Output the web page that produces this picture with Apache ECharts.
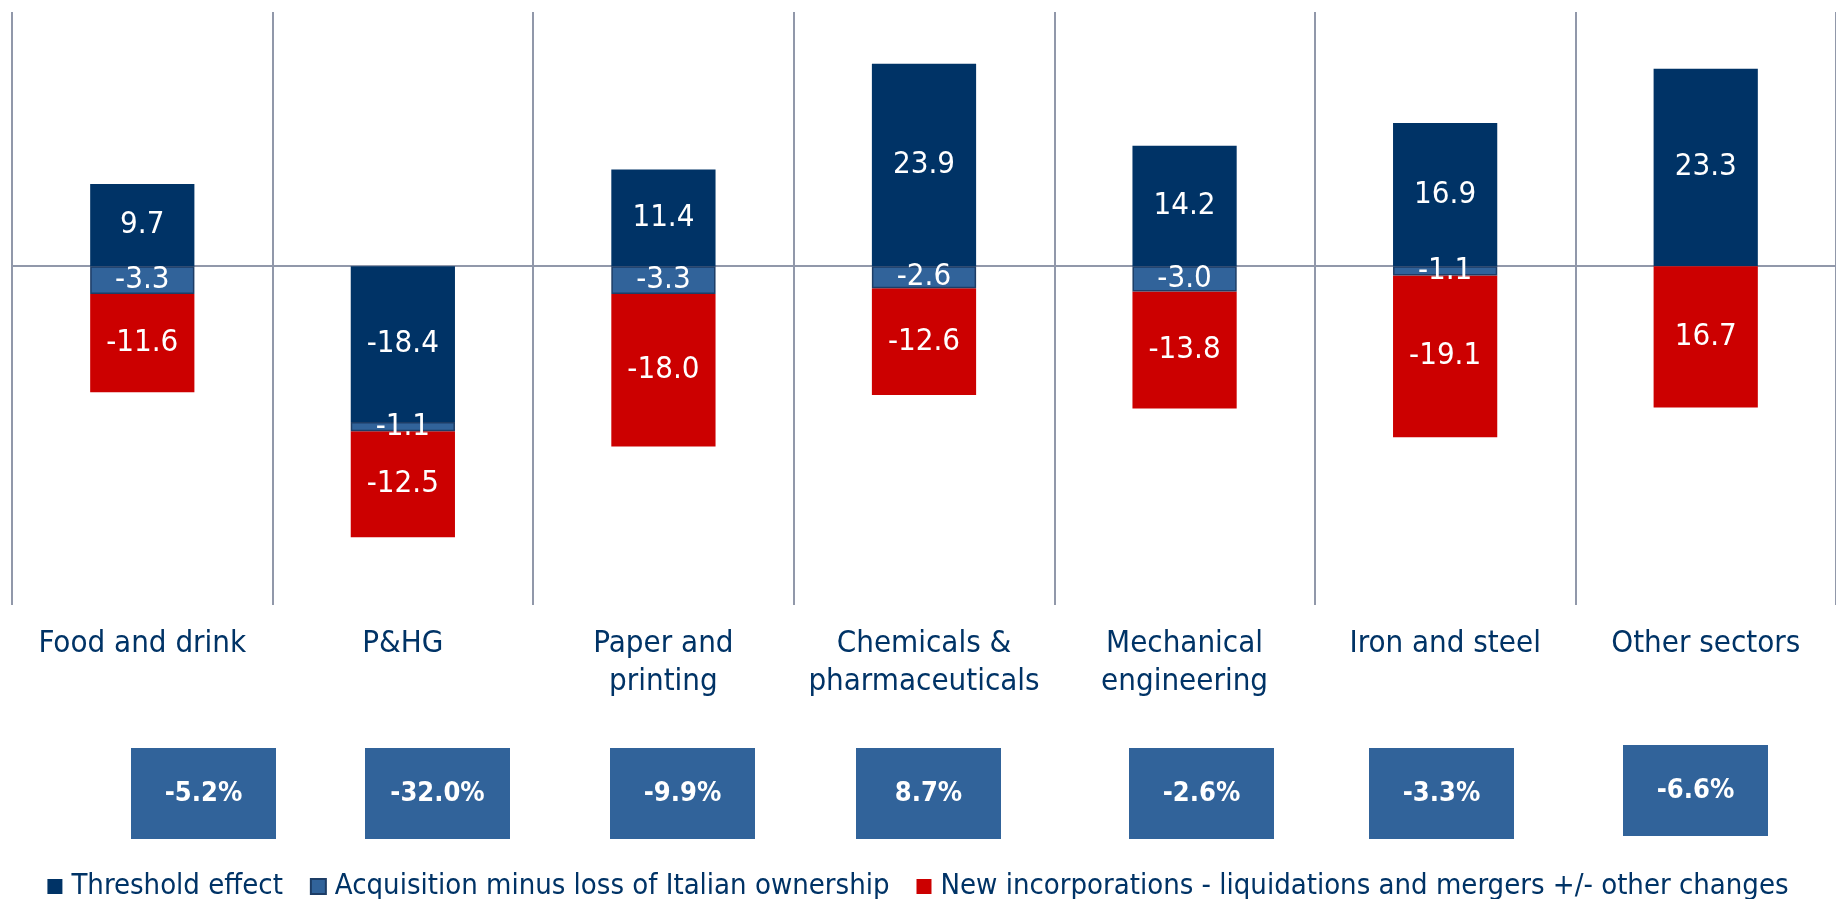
<!DOCTYPE html>
<html>
<head>
<meta charset="utf-8">
<script src="https://cdn.jsdelivr.net/npm/echarts@6/dist/echarts.min.js"></script>
<style>
  html, body { margin: 0; padding: 0; background: #ffffff; }
  #chart { width: 1836px; height: 899px; }
</style>
</head>
<body>
<div id="chart"></div>
<script>
// Sectors and the three components of the change in firm numbers
const sectors = ['Food and drink', 'P&HG', 'Paper and\nprinting', 'Chemicals &\npharmaceuticals', 'Mechanical\nengineering', 'Iron and steel', 'Other sectors'];
const seriesNames = ['Threshold effect', 'Acquisition minus loss of Italian ownership', 'New incorporations - liquidations and mergers +/- other changes'];
const thresholdEffect = [9.7, -18.4, 11.4, 23.9, 14.2, 16.9, 23.3];
const ownershipChange = [-3.3, -1.1, -3.3, -2.6, -3.0, -1.1, null];
const demographicChange = [-11.6, -12.5, -18.0, -12.6, -13.8, -19.1, -16.7];
// sectors whose demographic value is printed without its sign
const unsignedLabelSectors = ['Other sectors'];
// overall percentage change per sector
const totalChange = [-5.2, -32.0, -9.9, 8.7, -2.6, -3.3, -6.6];

const FONT = '"DejaVu Sans Condensed", "DejaVu Sans", sans-serif';
const NAVY = '#003366';
const STEEL = '#31639a';
const RED = '#cc0000';
const GRID_LINE = '#9198aa';

// horizontal placement of the summary boxes under each sector
const boxCenterX = [203.5, 437.5, 682.5, 928.5, 1201.5, 1441.5, 1695.5];
const boxTop = [748, 748, 748, 748, 748, 748, 745];

const chart = echarts.init(document.getElementById('chart'), null, { renderer: 'canvas' });

const valueLabel = (unsignedFor) => ({
  show: true,
  position: 'inside',
  color: '#ffffff',
  fontFamily: FONT,
  fontSize: 31,
  formatter: (p) => {
    if (p.value == null) return '';
    const v = unsignedFor && unsignedLabelSectors.includes(sectors[p.dataIndex]) ? Math.abs(p.value) : p.value;
    return v.toFixed(1);
  }
});

chart.setOption({
  animation: false,
  backgroundColor: '#ffffff',
  grid: { left: 12, right: -16, top: 12, bottom: 294, containLabel: false },
  xAxis: [
    {
      type: 'category',
      data: sectors,
      position: 'bottom',
      axisLine: { show: false, onZero: false },
      axisTick: { show: false },
      splitLine: { show: true, interval: 0, lineStyle: { color: GRID_LINE, width: 2 } },
      axisLabel: {
        interval: 0,
        margin: 20,
        color: NAVY,
        fontFamily: FONT,
        fontSize: 31,
        lineHeight: 38,
        align: 'center'
      }
    },
    {
      type: 'category',
      data: sectors,
      position: 'top',
      axisLine: { show: true, onZero: true, lineStyle: { color: GRID_LINE, width: 2 } },
      axisTick: { show: false },
      axisLabel: { show: false },
      splitLine: { show: false }
    }
  ],
  yAxis: {
    type: 'value',
    min: -40,
    max: 30,
    interval: 10,
    axisLine: { show: false },
    axisTick: { show: false },
    axisLabel: { show: false },
    splitLine: { show: false }
  },
  legend: {
    bottom: -7,
    left: 'center',
    itemWidth: 15,
    itemHeight: 15,
    itemGap: 27,
    icon: 'rect',
    textStyle: { color: NAVY, fontFamily: FONT, fontSize: 29, padding: [0, 0, 0, 4] },
    data: seriesNames
  },
  series: [
    {
      name: seriesNames[0],
      type: 'bar',
      stack: 'total',
      barWidth: '40%',
      itemStyle: { color: NAVY },
      label: valueLabel(false),
      data: thresholdEffect
    },
    {
      name: seriesNames[1],
      type: 'bar',
      stack: 'total',
      barWidth: '40%',
      itemStyle: { color: STEEL, borderColor: '#1d3d66', borderWidth: 1.5 },
      label: valueLabel(false),
      z: 3,
      data: ownershipChange
    },
    {
      name: seriesNames[2],
      type: 'bar',
      stack: 'total',
      barWidth: '40%',
      itemStyle: { color: RED },
      label: valueLabel(true),
      data: demographicChange
    }
  ],
  graphic: totalChange.map((v, i) => ({
    type: 'group',
    left: boxCenterX[i] - 72.5,
    top: boxTop[i],
    children: [
      { type: 'rect', shape: { x: 0, y: 0, width: 145, height: 91 }, style: { fill: STEEL } },
      {
        type: 'text',
        x: 72.5,
        y: 45.5,
        style: {
          text: v.toFixed(1) + '%',
          fill: '#ffffff',
          fontFamily: FONT,
          fontSize: 27,
          fontWeight: 'bold',
          align: 'center',
          verticalAlign: 'middle'
        }
      }
    ]
  }))
});
</script>
</body>
</html>
